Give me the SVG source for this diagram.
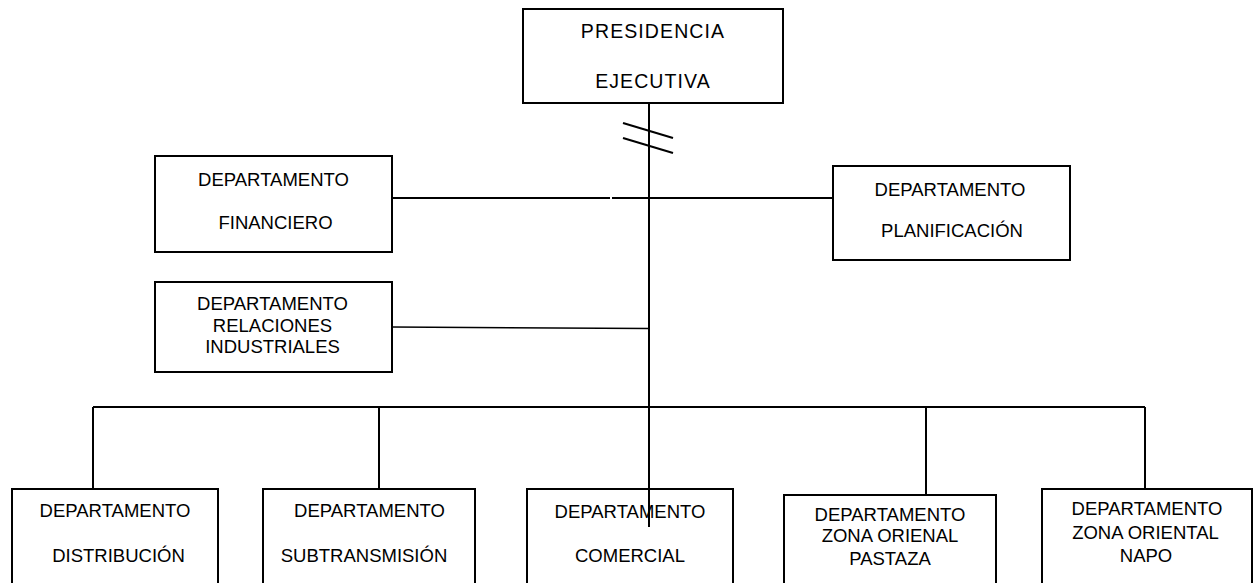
<svg xmlns="http://www.w3.org/2000/svg" width="1253" height="583" viewBox="0 0 1253 583">
<style>
.box{fill:#fff;stroke:#000;stroke-width:2}
.t{font-family:"Liberation Sans",Arial,sans-serif;font-size:18.5px;fill:#000;text-anchor:middle}
.c{stroke:#000;stroke-width:2;fill:none}
</style>
<rect width="1253" height="583" fill="#fff"/>
<g id="connectors">
<line class="c" x1="649" y1="103" x2="649" y2="527"/>
<line class="c" x1="623" y1="123" x2="673" y2="138"/>
<line class="c" x1="623" y1="138" x2="673" y2="153"/>
<line class="c" x1="392" y1="198" x2="610" y2="198"/>
<line class="c" x1="612" y1="198" x2="833" y2="198"/>
<line class="c" x1="392" y1="327" x2="649" y2="328.5" style="stroke-width:1.5"/>
<line class="c" x1="93" y1="407" x2="1145" y2="407"/>
<line class="c" x1="93" y1="407" x2="93" y2="489"/>
<line class="c" x1="379" y1="407" x2="379" y2="489"/>
<line class="c" x1="926" y1="407" x2="926" y2="495"/>
<line class="c" x1="1145" y1="407" x2="1145" y2="489"/>
</g>
<g id="presidencia">
<rect class="box" x="523" y="9" width="260" height="94"/>
<text class="t" x="653" y="38" style="font-size:19.5px" letter-spacing="1.1">PRESIDENCIA</text>
<text class="t" x="653" y="88" style="font-size:19.5px" letter-spacing="1.1">EJECUTIVA</text>
</g>
<g id="financiero">
<rect class="box" x="155" y="156" width="237" height="96"/>
<text class="t" x="273.5" y="186">DEPARTAMENTO</text>
<text class="t" x="275.5" y="229">FINANCIERO</text>
</g>
<g id="planificacion">
<rect class="box" x="833" y="166" width="237" height="94"/>
<text class="t" x="950" y="196">DEPARTAMENTO</text>
<text class="t" x="952" y="237">PLANIFICACIÓN</text>
</g>
<g id="relaciones">
<rect class="box" x="155" y="282" width="237" height="90"/>
<text class="t" x="272.5" y="310">DEPARTAMENTO</text>
<text class="t" x="272.5" y="332">RELACIONES</text>
<text class="t" x="272.5" y="353">INDUSTRIALES</text>
</g>
<g id="distribucion">
<rect class="box" x="12" y="489" width="206" height="110"/>
<text class="t" x="115" y="517">DEPARTAMENTO</text>
<text class="t" x="118.5" y="562">DISTRIBUCIÓN</text>
</g>
<g id="subtransmision">
<rect class="box" x="263" y="489" width="212" height="110"/>
<text class="t" x="369.5" y="517">DEPARTAMENTO</text>
<text class="t" x="364" y="562">SUBTRANSMISIÓN</text>
</g>
<g id="comercial">
<rect class="box" x="527" y="489" width="206" height="110"/>
<text class="t" x="630" y="518">DEPARTAMENTO</text>
<text class="t" x="630" y="562">COMERCIAL</text>
</g>
<line class="c" x1="649" y1="489" x2="649" y2="527"/>
<g id="pastaza">
<rect class="box" x="784" y="495" width="212" height="104"/>
<text class="t" x="890" y="521">DEPARTAMENTO</text>
<text class="t" x="890" y="542">ZONA ORIENAL</text>
<text class="t" x="890" y="565">PASTAZA</text>
</g>
<g id="napo">
<rect class="box" x="1042" y="489" width="210" height="110"/>
<text class="t" x="1147" y="515">DEPARTAMENTO</text>
<text class="t" x="1145.5" y="539">ZONA ORIENTAL</text>
<text class="t" x="1146" y="562">NAPO</text>
</g>
</svg>
